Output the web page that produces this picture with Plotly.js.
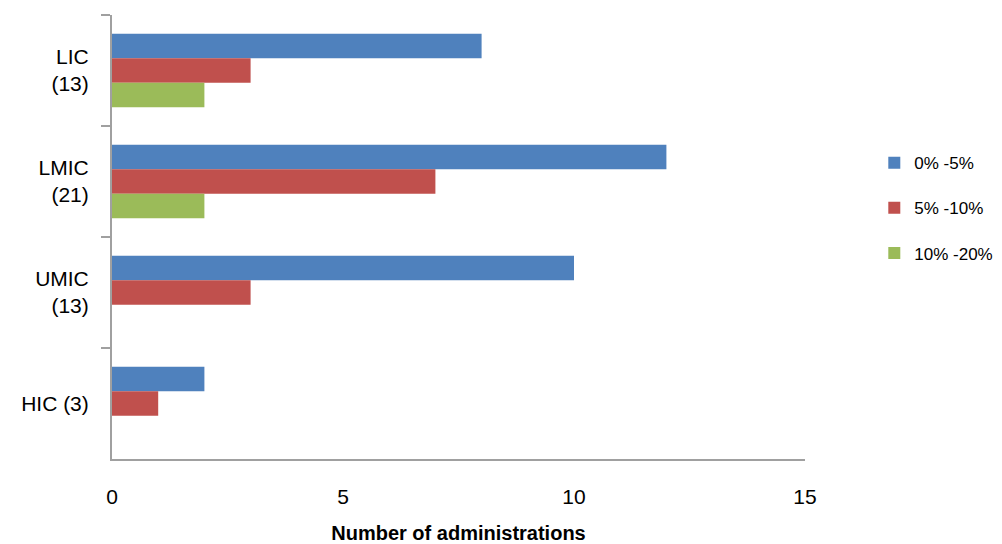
<!DOCTYPE html>
<html>
<head>
<meta charset="utf-8">
<script src="https://cdn.plot.ly/plotly-3.0.1.min.js"></script>
<style>html,body{margin:0;padding:0;background:#fff;}#chart{width:1002px;height:544px;}</style>
</head>
<body>
<div id="chart"></div>
<script>
const categories = ["LIC<br>(13)", "LMIC<br>(21)", "UMIC<br>(13)", "HIC (3)"];
const seriesNames = ["0% -5%", "5% -10%", "10% -20%"];
const share0to5 = [8, 12, 10, 2];
const share5to10 = [3, 7, 3, 1];
const share10to20 = [2, 2, 0, 0];
const xTickVals = [0, 5, 10, 15];

const colors = ["#4F81BD", "#C0504D", "#9BBB59"];
const values = [share0to5, share5to10, share10to20];

const traces = values.map((v, i) => ({
  type: "bar",
  orientation: "h",
  name: seriesNames[i],
  y: categories,
  x: v,
  legendgroup: "g" + i,
  marker: {color: colors[i]},
  hoverinfo: "x+name"
}));

const layout = {
  width: 1002, height: 544,
  margin: {l: 112, r: 197, t: 15, b: 85, autoexpand: false},
  paper_bgcolor: "#fff", plot_bgcolor: "#fff",
  barmode: "group",
  bargap: 0.34,
  bargroupgap: 0,
  font: {family: "Liberation Sans, Arial, sans-serif", size: 21, color: "#000"},
  xaxis: {
    range: [0, 15],
    tickvals: xTickVals,
    showgrid: false, zeroline: false,
    showline: true, linecolor: "#A0A0A0", linewidth: 2,
    ticks: "",
    ticklabelstandoff: 18,
    tickfont: {size: 21},
    title: {text: "<b>Number of administrations</b>", font: {size: 20}, standoff: 20}
  },
  yaxis: {
    autorange: "reversed",
    type: "category",
    showgrid: false, zeroline: false,
    showline: true, linecolor: "#A0A0A0", linewidth: 2,
    ticks: "outside", ticklen: 9, tickwidth: 2, tickcolor: "#A0A0A0",
    tickson: "boundaries",
    ticklabelstandoff: 17,
    tickfont: {size: 21}
  },
  legend: {
    x: 1.1, xanchor: "left",
    y: 0.565, yanchor: "middle",
    font: {size: 17},
    traceorder: "grouped",
    tracegroupgap: 20,
    itemwidth: 30
  },
  showlegend: true
};

Plotly.newPlot("chart", traces, layout, {displayModeBar: false, staticPlot: true});
</script>
</body>
</html>
